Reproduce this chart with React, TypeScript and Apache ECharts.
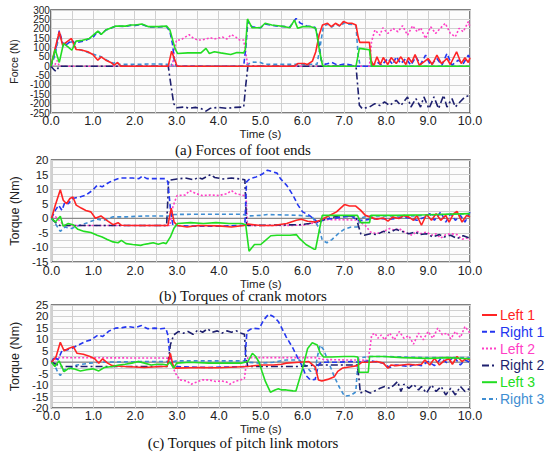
import React, { useEffect, useRef } from 'react';
import * as echarts from 'echarts';

type Pt = [number, number];

const seriesNames = ['Left 1', 'Right 1', 'Left 2', 'Right 2', 'Left 3', 'Right 3'];
const timeTicks = [0, 10];

// (a) Forces of foot ends (N)
const forceLeft1: Pt[] = [[0,0],[0.1,95],[0.2,184],[0.28,112],[0.38,130],[0.49,148],[0.6,89],[0.73,86],[0.88,77],[1.0,62],[1.12,32],[1.2,50],[1.31,32],[1.43,20],[1.51,5],[1.59,20],[1.67,0],[2.8,0],[2.88,80],[2.96,32],[3.01,0],[5.81,0],[5.89,14],[6.05,14],[6.12,9],[6.24,27],[6.32,77],[6.4,166],[6.48,220],[6.6,229],[6.69,211],[6.79,229],[6.89,216],[6.98,238],[7.08,229],[7.18,229],[7.28,220],[7.33,157],[7.37,127],[7.6,127],[7.64,32],[7.7,0],[7.78,50],[7.86,9],[7.93,46],[8.04,9],[8.12,46],[8.24,14],[8.35,50],[8.47,9],[8.53,46],[8.61,20],[8.69,62],[8.79,5],[8.9,23],[9.0,41],[9.1,9],[9.21,59],[9.32,14],[9.45,41],[9.53,9],[9.68,77],[9.79,14],[9.88,45],[9.96,20],[10,45]];
const forceRight1: Pt[] = [[0,0],[0.1,80],[0.2,190],[0.3,105],[0.4,120],[0.5,140],[0.58,120],[0.65,128],[0.8,135],[0.92,148],[1.0,152],[1.12,187],[1.2,170],[1.31,193],[1.45,205],[1.55,214],[1.78,212],[1.9,218],[2.02,218],[2.17,223],[2.33,210],[2.57,210],[2.76,212],[2.84,185],[2.9,120],[2.95,20],[3.0,0],[4.6,0],[4.65,100],[4.7,240],[4.8,210],[5.0,205],[5.11,225],[5.27,218],[5.42,214],[5.58,211],[5.7,208],[5.78,235],[5.85,255],[5.95,230],[6.1,215],[6.3,208],[6.38,150],[6.45,30],[6.55,10],[6.7,20],[6.85,5],[7.0,12],[7.2,5],[7.3,0],[7.65,0],[7.78,23],[7.89,5],[8.04,41],[8.16,9],[8.24,50],[8.35,14],[8.47,41],[8.59,5],[8.71,50],[8.82,9],[8.94,59],[9.06,5],[9.21,41],[9.33,5],[9.45,68],[9.57,5],[9.72,32],[9.84,14],[9.96,59],[10,40]];
const forceLeft2: Pt[] = [[0,0],[0.1,10],[0.15,30],[0.2,0],[2.9,0],[2.95,100],[3.0,140],[3.1,140],[3.2,155],[3.3,168],[3.4,150],[3.5,140],[3.6,140],[3.7,145],[3.8,152],[3.9,145],[4.0,150],[4.1,155],[4.2,145],[4.3,168],[4.4,158],[4.5,140],[4.6,140],[4.65,70],[4.7,0],[7.6,0],[7.65,130],[7.73,193],[7.85,166],[7.92,205],[8.04,175],[8.16,202],[8.28,184],[8.39,216],[8.51,166],[8.63,216],[8.74,184],[8.82,205],[8.94,148],[9.06,211],[9.18,175],[9.29,202],[9.41,229],[9.53,175],[9.65,157],[9.74,202],[9.84,184],[9.96,238],[10,210]];
const forceRight2: Pt[] = [[0,0],[0.08,-20],[0.12,-28],[0.2,0],[2.8,0],[2.85,-80],[2.93,-200],[3.0,-222],[3.2,-218],[3.3,-225],[3.45,-220],[3.6,-228],[3.7,-240],[3.8,-225],[4.0,-220],[4.2,-225],[4.4,-220],[4.6,-218],[4.65,-100],[4.7,0],[7.28,0],[7.36,-209],[7.43,-227],[7.6,-218],[7.73,-200],[7.85,-210],[7.96,-191],[8.08,-210],[8.24,-182],[8.35,-210],[8.51,-164],[8.59,-218],[8.71,-173],[8.82,-218],[8.9,-164],[9.02,-227],[9.14,-164],[9.25,-227],[9.37,-155],[9.45,-218],[9.57,-173],[9.65,-218],[9.76,-191],[9.88,-164],[10,-155]];
const forceLeft3: Pt[] = [[0,0],[0.1,89],[0.2,20],[0.3,121],[0.4,104],[0.5,85],[0.6,134],[0.75,138],[0.92,148],[1.12,187],[1.2,170],[1.31,193],[1.55,214],[1.78,214],[1.9,220],[2.02,220],[2.17,225],[2.33,211],[2.57,211],[2.76,214],[2.84,193],[2.96,95],[3.02,68],[3.27,71],[3.58,71],[3.7,95],[3.78,68],[3.9,77],[4.05,71],[4.29,62],[4.44,73],[4.6,71],[4.64,90],[4.69,252],[4.8,205],[5.0,205],[5.11,229],[5.27,220],[5.42,216],[5.58,211],[5.7,205],[5.81,246],[5.89,202],[6.0,211],[6.2,211],[6.32,202],[6.4,95],[6.48,5],[6.52,0],[7.28,0],[7.36,95],[7.49,91],[7.6,88],[7.65,0],[10,0]];
const forceRight3: Pt[] = [[0,0],[0.1,60],[0.2,170],[0.3,120],[0.5,130],[0.6,95],[0.8,80],[1.0,65],[1.2,50],[1.35,30],[1.5,15],[1.55,25],[1.62,10],[2.0,10],[2.5,12],[2.8,10],[2.85,20],[2.9,0],[4.6,0],[4.7,10],[4.8,22],[5.0,20],[5.1,10],[6.35,10],[6.42,100],[6.5,210],[6.6,225],[6.7,208],[6.8,225],[6.9,212],[7.0,232],[7.1,224],[7.2,222],[7.28,215],[7.33,60],[7.38,0],[10,0]];

// (b) Torques of crank motors (Nm)
const crankLeft1: Pt[] = [[0,0],[0.09,4.5],[0.21,9.8],[0.28,6.2],[0.36,5],[0.44,6.8],[0.51,7.3],[0.59,4.5],[0.71,3.5],[0.82,2.7],[0.94,2.2],[1.05,0],[1.18,0.8],[1.32,-0.7],[1.47,-2.2],[1.59,-1.5],[1.67,-2.4],[2.0,-2.5],[2.5,-2.5],[2.78,-2.5],[2.86,3.5],[2.93,-1.3],[3.01,-2.5],[3.24,-3],[3.5,-2.5],[4.0,-2.6],[4.3,-3],[4.6,-2.5],[4.7,-2],[5.0,-2.5],[5.3,-2.5],[5.62,-1.8],[5.85,-0.7],[5.97,-0.3],[6.12,-1],[6.3,-1.3],[6.42,-0.7],[6.62,0.8],[6.81,2.2],[7.0,4.7],[7.12,4.2],[7.27,4.2],[7.39,2.7],[7.5,1.0],[7.62,0.4],[7.77,-0.3],[7.93,0.1],[8.04,-1],[8.15,0.4],[8.3,-0.1],[8.42,1],[8.54,0.4],[8.65,-0.7],[8.73,1],[8.84,-2.4],[8.96,1.3],[9.08,-0.7],[9.19,1.6],[9.3,-0.7],[9.42,1],[9.5,-1.3],[9.61,1.6],[9.69,2.4],[9.81,-1.3],[9.92,1],[10,0.4]];
const crankRight1: Pt[] = [[0,0],[0.09,2.7],[0.17,4.5],[0.25,2.7],[0.32,5.6],[0.4,5],[0.51,6.8],[0.67,7.3],[0.82,7.9],[0.98,9.6],[1.09,11.3],[1.21,10.8],[1.36,12.2],[1.47,13],[1.63,13.8],[1.94,13.8],[2.09,13.6],[2.17,14.5],[2.28,13.6],[2.72,13.6],[2.78,12.5],[2.84,3.3],[2.9,-2.4],[3.0,-2.5],[3.4,-2.7],[4.0,-2.7],[4.62,-2.4],[4.66,12.5],[4.74,13.6],[4.89,14.2],[5.05,15.3],[5.16,16.5],[5.28,16],[5.39,15.5],[5.47,13.6],[5.62,11.3],[5.77,7.9],[5.89,4.5],[6.0,2.2],[6.16,1],[6.31,-0.7],[6.39,-1.8],[6.5,-0.3],[6.7,-0.1],[6.93,0.4],[7.16,0.8],[7.31,-0.7],[7.47,-0.7],[7.62,-0.3],[7.85,-0.1],[8.08,-0.3],[8.23,-0.1],[8.38,0.4],[8.54,0.1],[8.73,-0.7],[8.92,0.4],[9.04,1.6],[9.15,-0.7],[9.3,2.2],[9.42,-1.3],[9.54,1.6],[9.65,-0.7],[9.77,1],[9.88,-1.3],[10,2.2]];
const crankLeft2: Pt[] = [[0,0],[0.1,0.5],[0.2,-1],[0.3,-2.5],[2.83,-2.5],[2.88,3],[2.95,6],[3.0,7.8],[3.2,8],[3.3,9.5],[3.45,8.5],[3.6,7.8],[3.8,8],[4.0,7.8],[4.2,8.5],[4.3,9.5],[4.4,8.5],[4.6,7.8],[4.65,7.5],[4.68,-2],[4.72,-2.5],[6.0,-2.4],[6.3,-1.5],[6.5,-0.5],[7.0,-0.5],[7.3,-0.6],[7.5,-2.5],[7.62,-4.7],[7.77,-5.3],[7.93,-4.5],[8.08,-3.5],[8.2,-4.1],[8.3,-3.5],[8.46,-4.9],[8.62,-5.8],[8.73,-4.5],[8.84,-5.3],[8.96,-4.7],[9.08,-5.8],[9.19,-5.3],[9.3,-6.8],[9.42,-5.6],[9.54,-5.3],[9.69,-5.6],[9.81,-7.2],[9.92,-6.8],[10,-7.5]];
const crankRight2: Pt[] = [[0,0],[0.1,-1.5],[0.2,-2.5],[2.75,-2.5],[2.8,13],[3.0,13.5],[3.2,13.8],[3.4,13.2],[3.5,14],[3.6,13.5],[3.8,15],[3.9,14],[4.1,13.5],[4.3,13.8],[4.5,13.5],[4.62,13.2],[4.66,-2],[4.7,-2.5],[5.16,-2.4],[5.93,-2.2],[6.16,-1.8],[6.39,-1],[6.62,-0.1],[6.85,0.8],[7.27,0.8],[7.33,-2.4],[7.39,-5.3],[7.47,-5.8],[7.62,-5.3],[7.77,-5.6],[7.93,-4.5],[8.08,-4.9],[8.23,-3.8],[8.38,-4.5],[8.54,-5.3],[8.69,-4.7],[8.8,-5.6],[8.96,-5.3],[9.11,-6.4],[9.27,-5.6],[9.38,-6.4],[9.54,-5.8],[9.69,-7],[9.84,-6],[10,-6.8]];
const crankLeft3: Pt[] = [[0,0],[0.09,-1.3],[0.21,0.7],[0.28,-2.7],[0.4,-1.8],[0.51,-2.2],[0.63,-3.8],[0.78,-4.5],[0.94,-4.9],[1.09,-5.8],[1.21,-6.4],[1.32,-7.2],[1.47,-8.1],[1.59,-8.4],[1.67,-7.6],[1.78,-8.7],[1.94,-9],[2.13,-9.3],[2.2,-9],[2.32,-8.7],[2.43,-8.4],[2.55,-8.9],[2.67,-8.4],[2.74,-8.7],[2.84,-6.4],[2.93,-3.3],[3.01,-1.8],[3.32,-1.5],[3.63,-1.8],[3.93,-1.5],[4.24,-1.8],[4.55,-1.8],[4.64,-2.2],[4.72,-11.3],[4.85,-9],[5.0,-9],[5.12,-7.5],[5.24,-6],[5.39,-5.8],[5.5,-5.8],[5.7,-5.8],[5.85,-5.6],[5.93,-7],[6.08,-9],[6.27,-10.6],[6.31,-10.6],[6.39,-4.7],[6.47,1],[6.54,1],[7.08,1],[7.31,1],[7.39,-1.5],[7.6,-1.5],[7.63,1],[8.23,1],[9.0,1.2],[10,1.6]];
const crankRight3: Pt[] = [[0,0],[0.09,-1.8],[0.21,-4.5],[0.32,-3],[0.48,-3.5],[0.67,-2.4],[0.86,-1.5],[1.09,-0.3],[1.24,-0.7],[1.47,0.5],[1.78,0.5],[2.24,0.8],[2.63,0.8],[2.84,0.8],[2.93,1.3],[3.47,1.4],[4.55,1.4],[4.7,0.8],[5.0,1],[5.16,1.3],[5.93,1.0],[6.23,0.5],[6.39,-3.3],[6.47,-7.5],[6.58,-8.4],[6.7,-7.3],[6.85,-5.3],[7.0,-3.7],[7.16,-3],[7.31,-3],[7.39,0],[7.55,0.8],[7.85,0.8],[8.62,0.8],[9.38,1.3],[10,1.6]];

// (c) Torques of pitch link motors (Nm)
const pitchLeft1: Pt[] = [[0,0],[0.11,2.5],[0.21,8.7],[0.3,5],[0.42,6.1],[0.52,6.8],[0.61,3.9],[0.76,3.5],[0.92,2.5],[1.03,1.5],[1.13,-0.4],[1.22,1.5],[1.34,-0.4],[1.45,-1.5],[1.76,-1.9],[2.22,-2.3],[2.61,-1.9],[2.76,-1.9],[2.84,3.9],[2.9,-1.2],[2.96,-2.6],[3.5,-2.3],[4.0,-2.4],[4.69,-1.9],[5.0,-1.2],[5.3,-1.2],[5.5,-0.9],[5.61,-0.4],[5.92,0],[6.15,0.3],[6.3,-2],[6.38,-7.8],[6.46,-8.2],[6.6,-7.5],[6.76,-6.3],[6.84,-4],[6.96,-2.5],[7.15,-2],[7.31,-1.5],[7.42,0],[7.62,0],[7.77,0.3],[7.93,-0.4],[8.04,-2.6],[8.11,-1.2],[8.23,-1.5],[8.38,-1.2],[8.54,-0.9],[8.69,-1.2],[8.84,-0.9],[8.92,1],[9.04,-1.2],[9.15,1.7],[9.27,-1.2],[9.38,0.6],[9.5,1.5],[9.58,-0.9],[9.69,2.5],[9.81,0.3],[9.91,1.7],[10,1]];
const pitchRight1: Pt[] = [[0,0],[0.07,2.5],[0.15,1],[0.26,5.4],[0.38,5.4],[0.49,6.1],[0.65,7.6],[0.8,9],[0.95,9.8],[1.11,11.9],[1.22,11.2],[1.38,13.7],[1.53,14.9],[1.69,15.1],[1.84,15.6],[1.99,15.1],[2.15,16],[2.3,14.6],[2.46,14.9],[2.61,14.6],[2.73,14.9],[2.78,11.9],[2.84,0.3],[2.92,-1.9],[3.76,-2.3],[4.61,-1.9],[4.67,13.4],[4.8,14.9],[4.96,14.6],[5.07,18.5],[5.19,21],[5.3,20],[5.42,17.8],[5.5,15],[5.61,11],[5.77,6.1],[5.88,2],[6.0,-2],[6.07,-5.6],[6.19,-7.8],[6.3,-7.5],[6.38,-1],[6.45,0],[6.85,0],[7.15,0.3],[7.31,0],[7.62,0.6],[7.93,-0.4],[8.08,-2.3],[8.23,-1.2],[8.38,-1.5],[8.54,-1.9],[8.69,-0.9],[8.84,-1.5],[9.0,0.3],[9.15,-1.5],[9.31,1.7],[9.46,-0.4],[9.61,2.5],[9.77,-1.2],[9.88,1],[10,0]];
const pitchLeft2: Pt[] = [[0,0],[0.11,1.5],[0.18,2],[2.83,1.8],[2.88,-1.2],[2.96,-4.8],[3.07,-7.7],[3.23,-8.2],[3.34,-9.6],[3.46,-8.7],[3.61,-7.7],[3.76,-7.7],[3.92,-8.4],[4.07,-8.2],[4.19,-8.7],[4.26,-9.6],[4.38,-8.4],[4.53,-7.7],[4.61,-7],[4.65,-1.2],[4.69,2],[6.3,2],[6.5,1.2],[7.0,1],[7.3,1],[7.55,0.8],[7.6,4.7],[7.65,11.9],[7.73,12.7],[7.8,10.5],[7.88,11.9],[7.96,9.8],[8.08,12.7],[8.19,9.8],[8.31,13.4],[8.42,10.5],[8.54,11.6],[8.65,7.9],[8.77,12.7],[8.88,9.8],[9.0,13.4],[9.11,10.5],[9.23,14.9],[9.34,12],[9.46,12.7],[9.54,10.2],[9.65,13.4],[9.77,10.8],[9.88,15.6],[10,12.7]];
const pitchRight2: Pt[] = [[0,0],[0.11,-0.9],[0.22,-1.9],[2.78,-1.9],[2.8,1.7],[2.84,7.6],[2.92,11.9],[3.03,13.4],[3.15,12.7],[3.26,13.4],[3.38,12.2],[3.5,14.1],[3.61,13.1],[3.73,14.6],[3.84,13.1],[3.96,13.7],[4.07,12.7],[4.19,13.7],[4.3,13.1],[4.42,13.7],[4.53,12.7],[4.61,12.2],[4.65,1.7],[4.69,-1.9],[5.92,-1.9],[6.3,-1.2],[6.69,-1.2],[7.31,-1.2],[7.35,-7.7],[7.38,-13.5],[7.5,-12.5],[7.62,-13.5],[7.73,-12.5],[7.85,-11.4],[7.96,-10.6],[8.08,-11.4],[8.19,-9.9],[8.27,-8.4],[8.35,-12.8],[8.42,-9.6],[8.54,-11.4],[8.65,-9.6],[8.77,-12.1],[8.84,-10.6],[8.96,-13.5],[9.08,-9.9],[9.19,-12.8],[9.31,-10.6],[9.42,-14.3],[9.54,-11.4],[9.65,-14.3],[9.77,-10.6],[9.88,-12.8],[10,-11.4]];
const pitchLeft3: Pt[] = [[0,0],[0.08,-1.9],[0.18,0.6],[0.3,-4.1],[0.42,-2.6],[0.53,-2.9],[0.69,-3.8],[0.84,-3.3],[0.99,-2.9],[1.13,-3.8],[1.26,-2.3],[1.45,-1.9],[1.61,-1.2],[1.76,-0.9],[1.92,-0.4],[2.07,0.3],[2.22,-0.4],[2.38,-1.2],[2.53,-0.9],[2.65,-0.9],[2.76,-1.2],[2.83,0],[2.92,-2.6],[2.99,-0.4],[3.3,0],[3.76,-0.4],[4.23,-0.4],[4.53,-0.4],[4.69,0.3],[4.8,3.9],[4.88,2.5],[4.96,0],[5.03,-4.1],[5.11,-8.4],[5.23,-13.1],[5.34,-12.1],[5.42,-11.6],[5.5,-12.1],[5.61,-12.1],[5.77,-12.5],[5.84,-12.6],[6.0,-2.7],[6.12,6],[6.23,8.5],[6.35,7.5],[6.42,4],[6.5,2.3],[6.69,2.3],[7.0,2.5],[7.23,2.5],[7.32,2.3],[7.35,-4.4],[7.57,-4.4],[7.6,2.5],[7.93,2.5],[8.38,2],[9.0,1.7],[9.46,2],[10,1.5]];
const pitchRight3: Pt[] = [[0,0],[0.07,-1.2],[0.15,-4.4],[0.21,-5.8],[0.3,-3.3],[0.42,-2.9],[0.61,-1.2],[0.92,-0.4],[1.15,0],[2.22,0.3],[2.76,0.3],[2.84,0],[2.99,0.6],[3.76,0.6],[4.61,0.6],[4.69,0],[5.0,-0.4],[5.3,0],[5.61,1],[5.92,1],[6.07,-1.5],[6.19,-4],[6.3,-3],[6.36,3],[6.42,7.5],[6.5,5.5],[6.62,0],[6.75,-6],[6.88,-11],[7.0,-14.8],[7.15,-14.5],[7.27,-13],[7.33,1.8],[7.62,2.5],[8.0,2.5],[9.0,2],[10,2]];

const panelData: Pt[][][] = [
  [forceLeft1, forceRight1, forceLeft2, forceRight2, forceLeft3, forceRight3],
  [crankLeft1, crankRight1, crankLeft2, crankRight2, crankLeft3, crankRight3],
  [pitchLeft1, pitchRight1, pitchLeft2, pitchRight2, pitchLeft3, pitchRight3],
];
// Tick labels: panel (a) shows every 50 N; split in two alternating label sets so none are auto-hidden
const yRanges = [
  { min: -250, max: 300, step: 50, label: 100, offset: 0 },
  { min: -15, max: 20, step: 2.5, label: 5, offset: 0 },
  { min: -20, max: 25, step: 2.5, label: 5, offset: 0 },
  { min: -250, max: 300, step: 50, label: 100, offset: 50 },
];
const yNames = ['Force (N)', 'Torque (Nm)', 'Torque (Nm)', ''];
const captions = ['(a) Forces of foot ends', '(b) Torques of crank motors', '(c) Torques of pitch link motors'];

const lineStyles: { color: string; type: any; dash: number[] | null }[] = [
  { color: '#ff2424', type: 'solid', dash: null },
  { color: '#2436f0', type: [5, 3], dash: [5, 3] },
  { color: '#ff3fc6', type: [2, 2], dash: [2, 2] },
  { color: '#1d1f6e', type: [7, 3, 2, 3], dash: [7, 3, 2, 3] },
  { color: '#22dd22', type: 'solid', dash: null },
  { color: '#3f8ed2', type: [4, 3], dash: [4, 3] },
];

const grids = [
  { left: 44, top: 10, width: 426, height: 103 },
  { left: 36, top: 160, width: 434, height: 102 },
  { left: 37, top: 305, width: 433, height: 103 },
];
const yGridIndex = [0, 1, 2, 0];
const yNameGap = [29, 19, 20, 0];
const yLabelSize = [10, 11.5, 11.5, 10];
const yLabelLineHeight = [9, 12, 12, 9];
const yLabelMargin = [1, 3, 3, 1];
const yNameSize = [10.5, 12.5, 12.5, 10.5];
const xNameGap = [13, 9, 10];
const xLabelMargin = [1, 2, 1];
const captionY = [150, 296, 443];
const drawOrder = [5, 2, 3, 1, 0, 4];
const legendPos = { x: 482, y: 315, step: 16.8, lineLen: 15, textGap: 3 };

export default function App() {
  const ref = useRef<HTMLDivElement>(null);
  useEffect(() => {
    if (!ref.current) return;
    const chart = echarts.init(ref.current, undefined, { renderer: 'svg' });
    const font = 'Liberation Sans';
    const series: any[] = [];
    panelData.forEach((pd, p) => {
      series.push({
        type: 'line',
        name: 'zero',
        xAxisIndex: p,
        yAxisIndex: p,
        data: [[timeTicks[0], 0], [timeTicks[1], 0]],
        symbol: 'none',
        silent: true,
        lineStyle: { color: '#8a8a8a', width: 1.2 },
      });
      drawOrder.forEach((i) => {
        series.push({
          type: 'line',
          name: seriesNames[i],
          xAxisIndex: p,
          yAxisIndex: p,
          data: pd[i],
          symbol: 'none',
          showSymbol: false,
          lineStyle: { color: lineStyles[i].color, type: lineStyles[i].type, width: 1.6 },
          itemStyle: { color: lineStyles[i].color },
        });
      });
    });
    const legendGraphics: any[] = [];
    seriesNames.forEach((n, i) => {
      const cy = legendPos.y + i * legendPos.step;
      legendGraphics.push({
        type: 'line',
        silent: true,
        shape: { x1: legendPos.x, y1: cy, x2: legendPos.x + legendPos.lineLen, y2: cy },
        style: { stroke: lineStyles[i].color, lineWidth: 2, lineDash: lineStyles[i].dash || undefined },
      });
      legendGraphics.push({
        type: 'text',
        silent: true,
        x: legendPos.x + legendPos.lineLen + legendPos.textGap,
        y: cy,
        style: {
          text: n,
          fill: lineStyles[i].color,
          fontFamily: font,
          fontSize: 14,
          align: 'left',
          verticalAlign: 'middle',
        },
      });
    });
    const isLabel = (v: number, r: { label: number; offset: number }) => {
      const q = (v - r.offset) / r.label;
      return Math.abs(q - Math.round(q)) < 1e-6;
    };
    const option: any = {
      animation: false,
      backgroundColor: '#ffffff',
      grid: grids.map((g) => ({
        ...g,
        show: true,
        borderColor: '#555555',
        borderWidth: 1.5,
        backgroundColor: '#fcfcfc',
      })),
      xAxis: grids.map((g, p) => ({
        type: 'value',
        gridIndex: p,
        min: timeTicks[0],
        max: timeTicks[1],
        interval: 0.5,
        name: 'Time (s)',
        nameLocation: 'middle',
        nameGap: xNameGap[p],
        nameTextStyle: { fontFamily: font, fontSize: 11.5, color: '#222' },
        axisLine: { show: false },
        axisTick: { show: false },
        axisLabel: {
          margin: xLabelMargin[p],
          fontFamily: font,
          fontSize: 12.5,
          color: '#222',
          showMinLabel: true,
          showMaxLabel: true,
          formatter: (v: number) => (Math.abs(v - Math.round(v)) < 1e-6 ? v.toFixed(1) : ''),
        },
        splitLine: { show: true, lineStyle: { color: '#d0d0d0', width: 1 } },
      })),
      yAxis: yRanges.map((r, p) => ({
        type: 'value',
        gridIndex: yGridIndex[p],
        position: 'left',
        offset: 0,
        min: r.min,
        max: r.max,
        interval: r.step,
        name: yNames[p],
        nameLocation: 'middle',
        nameGap: yNameGap[p],
        nameTextStyle: { fontFamily: font, fontSize: yNameSize[p], color: '#222' },
        axisLine: { show: false },
        axisTick: { show: false },
        axisLabel: {
          margin: yLabelMargin[p],
          color: '#222',
          showMinLabel: true,
          showMaxLabel: true,
          hideOverlap: false,
          formatter: (v: number) => (isLabel(v, r) ? '{t|' + String(v) + '}' : ''),
          rich: {
            t: {
              fontFamily: font,
              fontSize: yLabelSize[p],
              lineHeight: yLabelLineHeight[p],
              color: '#222',
              padding: 0,
            },
          },
        },
        splitLine: { show: p < 3, lineStyle: { color: '#d0d0d0', width: 1 } },
      })),
      graphic: [
        ...captions.map((c, p) => ({
          type: 'text',
          x: 243,
          y: captionY[p],
          silent: true,
          style: {
            text: c,
            fill: '#111',
            fontFamily: 'Liberation Serif',
            fontSize: 15,
            align: 'center',
            verticalAlign: 'middle',
          },
        })),
        ...legendGraphics,
      ],
      series,
    };
    chart.setOption(option);
    return () => chart.dispose();
  }, []);
  return (
    <div
      ref={ref}
      style={{ position: 'absolute', left: 0, top: 0, width: 550, height: 457 }}
    />
  );
}
